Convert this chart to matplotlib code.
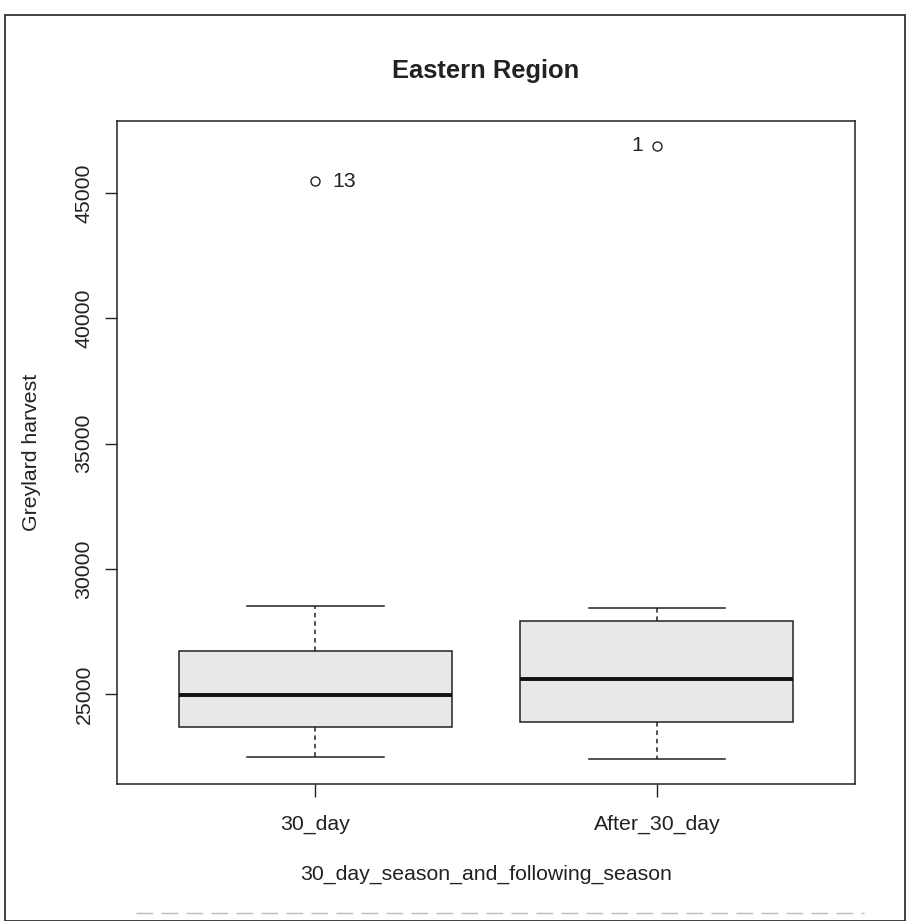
import matplotlib
matplotlib.use("Agg")
import matplotlib.pyplot as plt
from matplotlib.patches import Rectangle
from matplotlib.lines import Line2D

plt.rcParams['font.family'] = ['Liberation Sans', 'DejaVu Sans']

# five-number summaries per group
groups = ['30_day', 'After_30_day']
whislo = [22480, 22400]
q1 = [23680, 23880]
med = [24960, 25600]
q3 = [26720, 27920]
whishi = [28520, 28440]
outliers = [[45480], [46900]]
outlier_ids = ['13', '1']

yticks = [25000, 30000, 35000, 40000, 45000]

base = 15.3
fig = plt.figure(figsize=(9.09, 9.21), dpi=100)
ax = fig.add_axes([117/909, 1-784/921, (855-117)/909, (784-121)/921])

stats = []
for i in range(len(groups)):
    stats.append(dict(whislo=whislo[i], q1=q1[i], med=med[i], q3=q3[i],
                      whishi=whishi[i], fliers=outliers[i], label=groups[i]))

ink = '#222222'
ax.bxp(stats, positions=[1, 2], widths=0.8, patch_artist=True,
       boxprops=dict(facecolor='#e8e8e8', edgecolor=ink, linewidth=1.1),
       medianprops=dict(color='#111111', linewidth=2.8),
       whiskerprops=dict(color=ink, linewidth=1.1, linestyle=(0, (3, 2.5))),
       capprops=dict(color=ink, linewidth=1.1),
       capwidths=0.4,
       flierprops=dict(marker='o', markersize=6.5, markerfacecolor='none',
                       markeredgecolor=ink, markeredgewidth=1.0))

# label the outlying points with their row numbers
ax.text(1 + 0.05, outliers[0][0], outlier_ids[0], ha='left', va='center',
        fontsize=base, color=ink)
ax.text(2 - 0.04, outliers[1][0], outlier_ids[1], ha='right', va='center',
        fontsize=base, color=ink)

# R-style 4% padding around the data range
lo = min(whislo)
hi = max(max(o) for o in outliers)
pad = 0.04 * (hi - lo)
ax.set_ylim(lo - pad, hi + pad)
ax.set_xlim(0.42, 2.58)

ax.set_yticks(yticks)
ax.set_yticklabels([str(t) for t in yticks], rotation=90, va='center',
                   fontsize=base, color=ink)
ax.set_xticks([1, 2])
ax.set_xticklabels(groups, fontsize=base, color=ink)
ax.tick_params(axis='both', length=9, width=1.0, color=ink)
ax.tick_params(axis='x', pad=13)
ax.tick_params(axis='y', pad=8)
for s in ax.spines.values():
    s.set_color(ink)
    s.set_linewidth(1.1)

ax.set_ylabel('Greylard harvest', fontsize=base, color=ink, labelpad=24)
ax.set_xlabel('30_day_season_and_following_season', fontsize=base,
              color=ink, labelpad=22)
ax.set_title('Eastern Region', fontsize=base * 1.2, fontweight='bold',
             color=ink, pad=31)

# outer frame around the whole figure
fig.add_artist(Rectangle((5/909, 0.0), 900/909, 1-15/921, transform=fig.transFigure,
                         fill=False, edgecolor='#333333', linewidth=1.3))
fig.add_artist(Line2D([0.15, 0.95], [1-913/921]*2, transform=fig.transFigure,
                      color='#bbbbbb', linewidth=1.0, linestyle=(0, (12, 6))))

fig.savefig('out.png', dpi=100)
